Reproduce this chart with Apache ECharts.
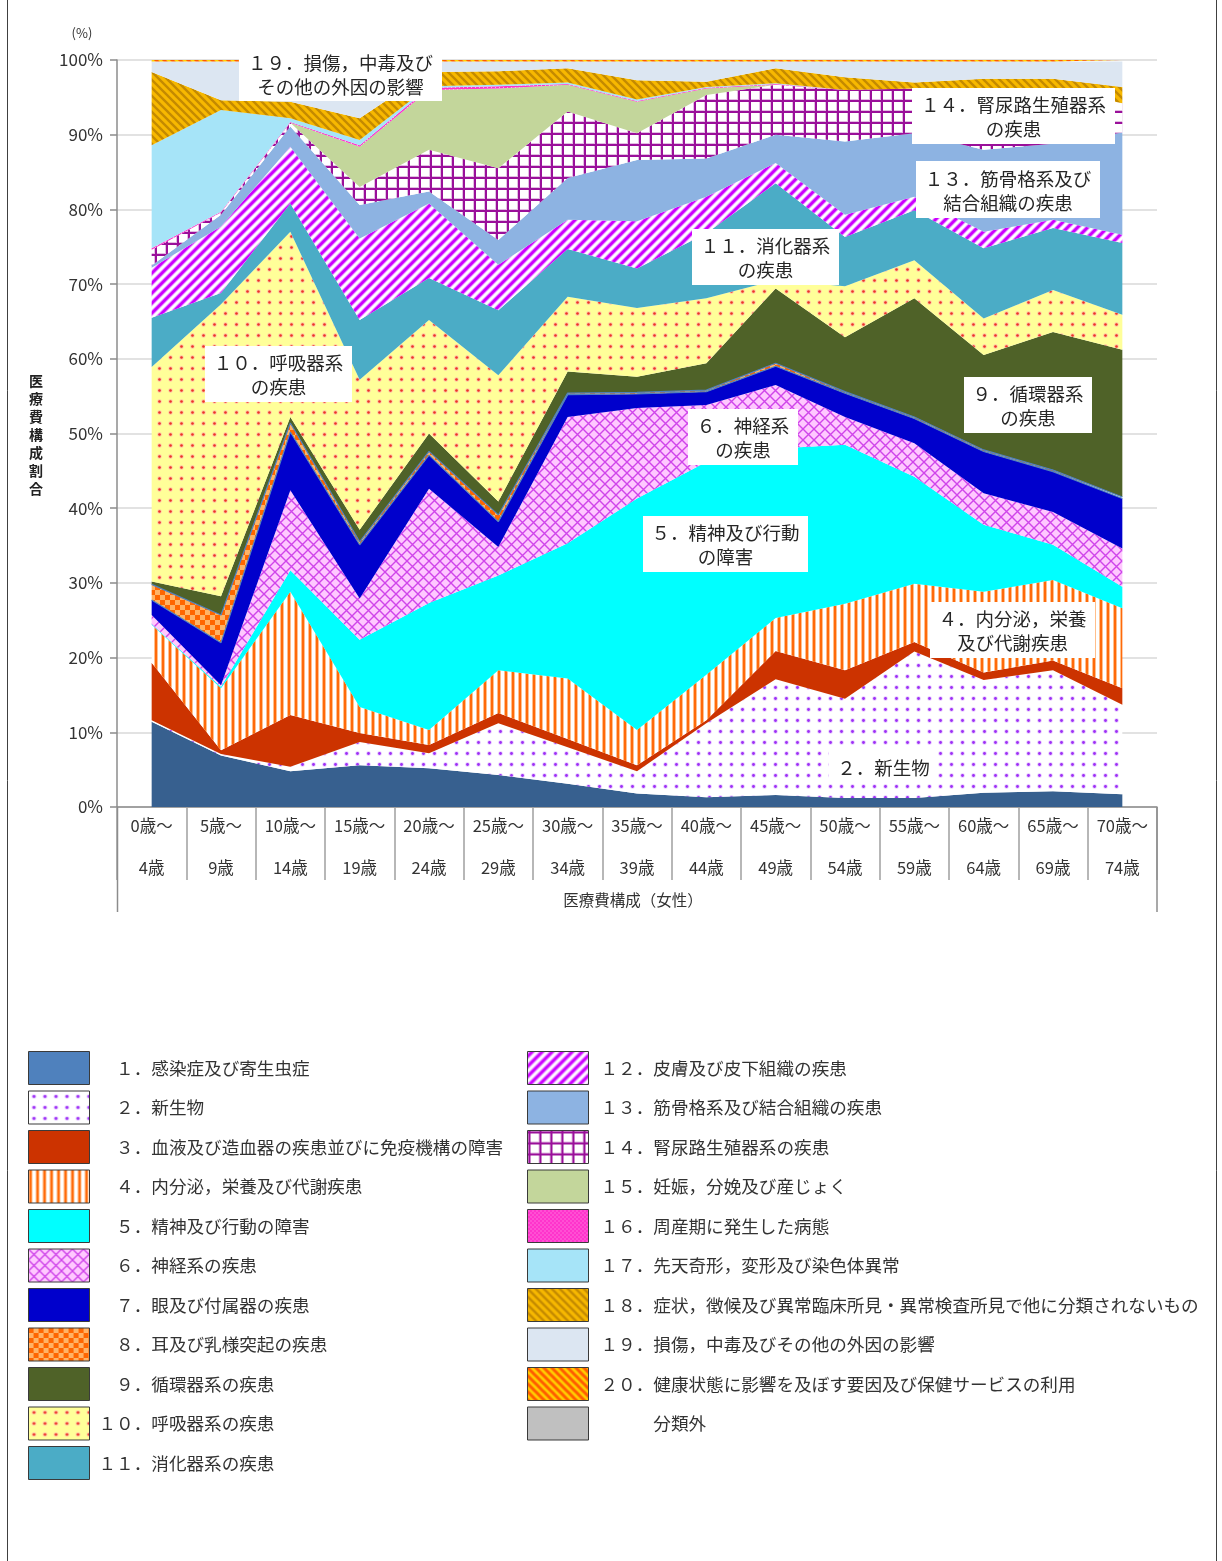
<!DOCTYPE html>
<html>
<head>
<meta charset="utf-8">
<script src="https://cdn.jsdelivr.net/npm/echarts@6/dist/echarts.min.js"></script>
<style>
html,body{margin:0;padding:0;background:#fff}
#chart{width:1222px;height:1561px}
</style>
</head>
<body>
<div id="chart"></div>
<script>
// Age bands (two-line tick labels)
const ageStart = ['0歳～','5歳～','10歳～','15歳～','20歳～','25歳～','30歳～','35歳～','40歳～','45歳～','50歳～','55歳～','60歳～','65歳～','70歳～'];
const ageEnd = ['4歳','9歳','14歳','19歳','24歳','29歳','34歳','39歳','44歳','49歳','54歳','59歳','64歳','69歳','74歳'];

// Share of medical expenses by disease group (%), women
const infectious   = [11.4, 6.9, 4.8, 5.6, 5.2, 4.3, 3.1, 1.8, 1.3, 1.6, 1.2, 1.2, 1.9, 2.1, 1.7];
const neoplasms    = [0.2, 0.2, 0.6, 3.1, 2.0, 6.9, 4.9, 3.0, 9.9, 15.5, 13.3, 19.6, 15.1, 16.2, 12.0];
const blood        = [7.7, 0.5, 6.9, 1.2, 1.1, 1.4, 1.1, 0.8, 0.4, 3.8, 3.8, 1.3, 1.0, 1.3, 2.2];
const endocrine    = [5.1, 8.3, 16.5, 3.5, 2.0, 5.7, 8.1, 4.7, 6.1, 4.4, 8.9, 7.8, 10.8, 10.8, 10.7];
const mental       = [0.1, 0.2, 2.9, 9.0, 17.0, 12.7, 18.1, 31.0, 28.5, 22.7, 21.3, 14.3, 9.0, 4.7, 2.9];
const nervous      = [1.2, 0.2, 10.7, 5.5, 15.3, 3.8, 16.9, 12.1, 7.6, 8.5, 3.7, 4.5, 4.2, 4.4, 5.1];
const eye          = [2.0, 5.7, 7.8, 7.2, 4.5, 3.4, 3.0, 1.9, 1.8, 2.5, 3.2, 3.3, 5.6, 5.4, 6.7];
const ear          = [2.1, 3.7, 1.2, 0.4, 0.5, 0.9, 0.2, 0.2, 0.2, 0.4, 0.2, 0.2, 0.2, 0.2, 0.2];
const circulatory  = [0.4, 2.5, 0.8, 1.6, 2.4, 1.8, 2.9, 2.1, 3.6, 10.0, 7.3, 15.9, 12.7, 18.5, 19.7];
const respiratory  = [28.7, 39.1, 24.8, 20.1, 15.2, 16.9, 10.0, 9.2, 8.7, 1.1, 6.8, 5.1, 4.9, 5.6, 4.7];
const digestive    = [6.6, 1.5, 3.8, 8.0, 5.6, 8.7, 6.4, 5.3, 8.7, 13.0, 6.6, 6.7, 9.4, 8.3, 9.6];
const skin         = [6.7, 8.9, 7.6, 10.9, 10.0, 6.1, 3.9, 6.3, 4.9, 2.7, 3.0, 1.8, 2.2, 1.1, 1.1];
const musculo      = [0.3, 1.6, 2.7, 4.5, 1.6, 3.3, 5.6, 8.2, 5.1, 3.8, 9.8, 8.5, 11.0, 10.2, 13.7];
const genitourinary= [2.1, 0.3, 0.5, 2.4, 5.6, 9.6, 8.9, 3.6, 8.5, 6.7, 6.9, 6.0, 8.2, 7.4, 3.9];
const pregnancy    = [0, 0, 0, 5.4, 8.0, 10.7, 3.6, 4.2, 0.9, 0, 0, 0, 0, 0, 0];
const perinatal    = [0.2, 0.1, 0.1, 0.2, 0.3, 0.3, 0.1, 0.1, 0.1, 0.1, 0, 0, 0, 0, 0];
const congenital   = [13.8, 13.6, 0.5, 0.7, 0.2, 0.2, 0.2, 0.2, 0.1, 0.1, 0, 0, 0, 0, 0];
const symptoms     = [9.8, 1.3, 2.2, 2.9, 1.9, 1.8, 1.9, 2.6, 0.7, 2.0, 1.7, 0.8, 1.3, 1.3, 2.2];
const injury       = [1.4, 5.2, 5.4, 7.6, 1.4, 1.3, 0.9, 2.5, 2.7, 0.9, 2.1, 2.8, 2.3, 2.3, 3.4];
const healthFactors= [0.2, 0.2, 0.2, 0.2, 0.2, 0.2, 0.2, 0.2, 0.2, 0.2, 0.2, 0.2, 0.2, 0.2, 0.2];
const unclassified = [0, 0, 0, 0, 0, 0, 0, 0, 0, 0, 0, 0, 0, 0, 0];

const seriesNames = [
  '１．感染症及び寄生虫症',
  '２．新生物',
  '３．血液及び造血器の疾患並びに免疫機構の障害',
  '４．内分泌，栄養及び代謝疾患',
  '５．精神及び行動の障害',
  '６．神経系の疾患',
  '７．眼及び付属器の疾患',
  '８．耳及び乳様突起の疾患',
  '９．循環器系の疾患',
  '１０．呼吸器系の疾患',
  '１１．消化器系の疾患',
  '１２．皮膚及び皮下組織の疾患',
  '１３．筋骨格系及び結合組織の疾患',
  '１４．腎尿路生殖器系の疾患',
  '１５．妊娠，分娩及び産じょく',
  '１６．周産期に発生した病態',
  '１７．先天奇形，変形及び染色体異常',
  '１８．症状，徴候及び異常臨床所見・異常検査所見で他に分類されないもの',
  '１９．損傷，中毒及びその他の外因の影響',
  '２０．健康状態に影響を及ぼす要因及び保健サービスの利用',
  '分類外'
];

// ---- fill patterns drawn on small tiles ----
function makeTile(w, h, paint) {
  const c = document.createElement('canvas');
  c.width = w; c.height = h;
  paint(c.getContext('2d'), w, h);
  return { image: c, repeat: 'repeat' };
}
function dot(g, x, y, r, color) {
  g.fillStyle = color; g.beginPath(); g.arc(x, y, r, 0, Math.PI * 2); g.fill();
}
function diag(g, w, slash) {
  // three copies so the stripe wraps across tile edges
  g.beginPath();
  for (const k of [-w, 0, w]) {
    if (slash) { g.moveTo(k - 2, w + 2); g.lineTo(k + w + 2, -2); }
    else { g.moveTo(k - 2, -2); g.lineTo(k + w + 2, w + 2); }
  }
  g.stroke();
}

const fillNeoplasm = makeTile(11, 11, (g, w, h) => {
  g.fillStyle = '#ffffff'; g.fillRect(0, 0, w, h);
  dot(g, 5.5, 5.5, 2.3, '#e6c8ff');
  dot(g, 5.5, 5.5, 1.4, '#9d2ff5');
});
const fillEndocrine = makeTile(7, 7, (g) => {
  g.fillStyle = '#ffffff'; g.fillRect(0, 0, 7, 7);
  g.fillStyle = '#ffbf8c'; g.fillRect(0, 0, 4, 7);
  g.fillStyle = '#ff6a0a'; g.fillRect(1, 0, 2, 7);
});
const fillNervous = makeTile(11, 11, (g) => {
  g.fillStyle = '#ffc8ff'; g.fillRect(0, 0, 11, 11);
  g.strokeStyle = '#cf45ea'; g.lineWidth = 1.4;
  g.beginPath();
  g.moveTo(0, 0); g.lineTo(11, 11);
  g.moveTo(11, 0); g.lineTo(0, 11);
  g.stroke();
});
const fillEar = makeTile(10, 10, (g) => {
  g.fillStyle = '#ffb366'; g.fillRect(0, 0, 10, 10);
  g.fillStyle = '#ff6600'; g.fillRect(0, 0, 5, 5); g.fillRect(5, 5, 5, 5);
});
const fillRespiratory = makeTile(11, 11, (g) => {
  g.fillStyle = '#ffff99'; g.fillRect(0, 0, 11, 11);
  dot(g, 5.5, 5.5, 2.2, '#ffc4a8');
  dot(g, 5.5, 5.5, 1.3, '#ec3424');
});
const fillSkin = makeTile(10, 10, (g) => {
  g.fillStyle = '#cc00ff'; g.fillRect(0, 0, 10, 10);
  g.strokeStyle = '#eeb0ff'; g.lineWidth = 4.2; diag(g, 10, true);
  g.strokeStyle = '#ffffff'; g.lineWidth = 2.2; diag(g, 10, true);
});
const fillGenito = makeTile(11, 11, (g) => {
  g.fillStyle = '#ffffff'; g.fillRect(0, 0, 11, 11);
  g.fillStyle = '#e2bde2'; g.fillRect(0, 0, 3, 11); g.fillRect(0, 0, 11, 3);
  g.fillStyle = '#9a0f9a'; g.fillRect(1, 0, 2, 11); g.fillRect(0, 1, 11, 2);
});
const fillPerinatal = makeTile(4, 4, (g) => {
  g.fillStyle = '#ff33cc'; g.fillRect(0, 0, 4, 4);
  g.fillStyle = '#ffa6e8'; g.fillRect(1, 1, 1, 1); g.fillRect(3, 3, 1, 1);
});
const fillSymptoms = makeTile(8, 8, (g) => {
  g.fillStyle = '#f7b800'; g.fillRect(0, 0, 8, 8);
  g.strokeStyle = '#c48a00'; g.lineWidth = 2.4; diag(g, 8, false);
});
const fillFactors = makeTile(8, 8, (g) => {
  g.fillStyle = '#ffd000'; g.fillRect(0, 0, 8, 8);
  g.strokeStyle = '#ff5a00'; g.lineWidth = 3; diag(g, 8, false);
});

const layers = [
  { values: infectious,    fill: '#37608f', legendFill: '#4f81bd' },
  { values: neoplasms,     fill: fillNeoplasm },
  { values: blood,         fill: '#cc3300' },
  { values: endocrine,     fill: fillEndocrine },
  { values: mental,        fill: '#00ffff' },
  { values: nervous,       fill: fillNervous },
  { values: eye,           fill: '#0000cc', edge: '#4f81bd' },
  { values: ear,           fill: fillEar, edge: '#4f81bd' },
  { values: circulatory,   fill: '#4f6228' },
  { values: respiratory,   fill: fillRespiratory },
  { values: digestive,     fill: '#4bacc6' },
  { values: skin,          fill: fillSkin },
  { values: musculo,       fill: '#8db3e2' },
  { values: genitourinary, fill: fillGenito },
  { values: pregnancy,     fill: '#c3d69b' },
  { values: perinatal,     fill: fillPerinatal },
  { values: congenital,    fill: '#a6e4f8' },
  { values: symptoms,      fill: fillSymptoms },
  { values: injury,        fill: '#dce6f2' },
  { values: healthFactors, fill: fillFactors },
  { values: unclassified,  fill: '#c0c0c0' }
];

const categories = ageStart.map((s, i) => s + '\n\n' + ageEnd[i]);

const FONT = '"Noto Sans CJK JP", "Noto Sans", sans-serif';

const series = layers.map((l, i) => ({
  name: seriesNames[i],
  type: 'line',
  stack: 'total',
  data: l.values,
  symbol: 'none',
  silent: true,
  emphasis: { disabled: true },
  lineStyle: l.edge ? { color: l.edge, width: 1.2 } : { width: 0, opacity: 0 },
  itemStyle: { color: l.fill },
  areaStyle: { color: l.fill, opacity: 1 }
}));

function legendItems(from, to) {
  return seriesNames.slice(from, to).map((n, k) => {
    const l = layers[from + k];
    const item = { name: n };
    if (l.legendFill) item.itemStyle = { color: l.legendFill };
    return item;
  });
}
function legendText(name) {
  const idx = seriesNames.indexOf(name);
  if (name === '分類外') return '　　　' + name;
  return idx < 9 ? '　' + name : name;
}
const legendCommon = {
  orient: 'vertical',
  top: 1051,
  height: 480,
  padding: 0,
  icon: 'rect',
  itemWidth: 61,
  itemHeight: 33,
  itemGap: 5.5,
  selectedMode: false,
  itemStyle: { borderColor: '#3a3a3a', borderWidth: 1 },
  formatter: legendText
};

// callout boxes placed on the areas
const callouts = [
  { text: '１９．損傷，中毒及び\nその他の外因の影響', box: [239, 47, 203, 54] },
  { text: '１４．腎尿路生殖器系\nの疾患', box: [912, 88, 203, 56] },
  { text: '１３．筋骨格系及び\n結合組織の疾患', box: [916, 161, 184, 57] },
  { text: '１１．消化器系\nの疾患', box: [692, 229, 147, 56] },
  { text: '１０．呼吸器系\nの疾患', box: [205, 346, 147, 56] },
  { text: '９．循環器系\nの疾患', box: [964, 377, 128, 56] },
  { text: '６．神経系\nの疾患', box: [688, 409, 110, 56] },
  { text: '５．精神及び行動\nの障害', box: [643, 516, 165, 56] },
  { text: '４．内分泌，栄養\n及び代謝疾患', box: [930, 602, 165, 56] },
  { text: '２．新生物', box: [829, 751, 109, 32] }
];

const graphics = [];
callouts.forEach(c => {
  const [x, y, w, h] = c.box;
  graphics.push({ type: 'rect', z: 100, silent: true, shape: { x, y, width: w, height: h }, style: { fill: '#ffffff' } });
  graphics.push({
    type: 'text', z: 101, silent: true,
    style: {
      text: c.text, x: x + w / 2, y: y + h / 2 + 1,
      textAlign: 'center', textVerticalAlign: 'middle',
      fill: '#262626', font: '18.5px ' + FONT, lineHeight: 24
    }
  });
});
// outer frame sides
graphics.push({ type: 'line', z: 100, silent: true, shape: { x1: 7.5, y1: 0, x2: 7.5, y2: 1561 }, style: { stroke: '#404040', lineWidth: 1 } });
graphics.push({ type: 'line', z: 100, silent: true, shape: { x1: 1216.5, y1: 0, x2: 1216.5, y2: 1561 }, style: { stroke: '#404040', lineWidth: 1 } });
// long outer separators of the category table
graphics.push({ type: 'line', z: 100, silent: true, shape: { x1: 117.5, y1: 807, x2: 117.5, y2: 912 }, style: { stroke: '#8c8c8c', lineWidth: 1.5 } });
graphics.push({ type: 'line', z: 100, silent: true, shape: { x1: 1157, y1: 807, x2: 1157, y2: 912 }, style: { stroke: '#8c8c8c', lineWidth: 1.5 } });
// unit, axis titles
graphics.push({ type: 'text', z: 100, silent: true, style: { text: '(%)', x: 82, y: 33, textAlign: 'center', textVerticalAlign: 'middle', fill: '#333', font: '13px ' + FONT } });
graphics.push({ type: 'text', z: 100, silent: true, style: { text: '医\n療\n費\n構\n成\n割\n合', x: 36, y: 435, textAlign: 'center', textVerticalAlign: 'middle', fill: '#222', font: 'bold 14px ' + FONT, lineHeight: 18 } });
graphics.push({ type: 'text', z: 100, silent: true, style: { text: '医療費構成（女性）', x: 633, y: 900, textAlign: 'center', textVerticalAlign: 'middle', fill: '#333', font: '15.5px ' + FONT } });

const chart = echarts.init(document.getElementById('chart'), null, { renderer: 'canvas' });
chart.setOption({
  animation: false,
  backgroundColor: '#ffffff',
  textStyle: { fontFamily: FONT },
  grid: { left: 117, right: 65, top: 60, bottom: 754, containLabel: false },
  xAxis: {
    type: 'category',
    data: categories,
    boundaryGap: true,
    axisLine: { show: true, lineStyle: { color: '#8c8c8c', width: 1.5 } },
    axisTick: { show: true, interval: 0, length: 73, lineStyle: { color: '#a0a0a0', width: 1.5 } },
    axisLabel: { interval: 0, fontSize: 16.5, color: '#333', lineHeight: 21, margin: 8.5, fontFamily: FONT },
    splitLine: { show: false }
  },
  yAxis: {
    type: 'value',
    min: 0, max: 100, interval: 10,
    axisLine: { show: true, lineStyle: { color: '#8c8c8c', width: 1.5 } },
    axisTick: { show: true, length: 7, lineStyle: { color: '#8c8c8c', width: 1.5 } },
    axisLabel: { formatter: '{value}%', fontSize: 17, color: '#333', margin: 14, fontFamily: FONT },
    splitLine: { show: true, lineStyle: { color: '#d9d9d9', width: 1.5 } }
  },
  legend: [
    Object.assign({}, legendCommon, {
      left: 28, data: legendItems(0, 11),
      textStyle: { fontSize: 17.6, color: '#333', fontFamily: FONT, padding: [0, 0, 0, 4] }
    }),
    Object.assign({}, legendCommon, {
      left: 527, data: legendItems(11, 21),
      textStyle: { fontSize: 17.6, color: '#333', fontFamily: FONT, padding: [0, 0, 0, 7] }
    })
  ],
  series: series,
  graphic: graphics
});
</script>
</body>
</html>
